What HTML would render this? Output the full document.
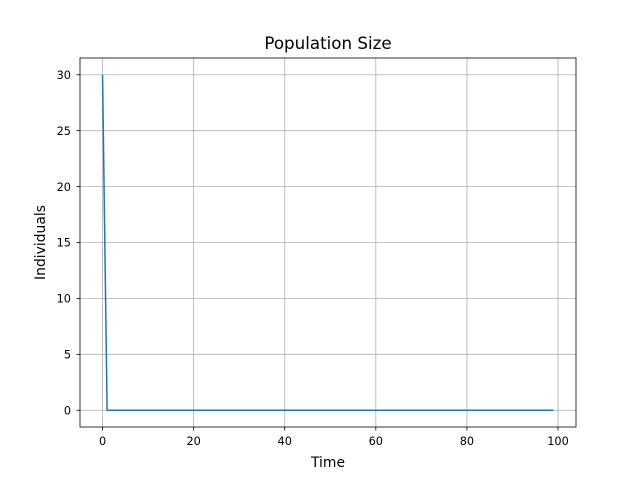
<!DOCTYPE html>
<html><head><meta charset="utf-8"><style>
body{margin:0;background:#fff;font-family:"DejaVu Sans","Liberation Sans",sans-serif}
svg text{font-family:"DejaVu Sans","Liberation Sans",sans-serif}
</style></head><body>
<svg id="chart" width="640" height="480" xmlns="http://www.w3.org/2000/svg">
<rect width="640" height="480" fill="#fff"/>
<g id="grid"></g><g id="ticks"></g><g id="series"></g>
<rect x="80" y="58" width="496" height="369" fill="none" stroke="#000" stroke-width="0.8"/>
<text x="328" y="49" text-anchor="middle" font-size="16.7">Population Size</text>
<text x="328" y="467" text-anchor="middle" font-size="13.9">Time</text>
<text x="45" y="242.5" text-anchor="middle" font-size="13.9" transform="rotate(-90 45 242.5)">Individuals</text>
</svg>
<script>
const xTicks=[0,20,40,60,80,100];
const yTicks=[0,5,10,15,20,25,30];
const popValues=[30].concat(new Array(99).fill(0));
const L=80,R=576,T=58,B=427;
const xMin=-4.95,xMax=103.95,yMin=-1.5,yMax=31.5;
const sx=v=>L+(v-xMin)/(xMax-xMin)*(R-L);
const sy=v=>B-(v-yMin)/(yMax-yMin)*(B-T);
const NS="http://www.w3.org/2000/svg";
const grid=document.getElementById('grid'),ticks=document.getElementById('ticks'),ser=document.getElementById('series');
function mk(tag,attrs,parent){const e=document.createElementNS(NS,tag);for(const k in attrs)e.setAttribute(k,attrs[k]);parent.appendChild(e);return e;}
xTicks.forEach(t=>{const x=sx(t);
 const g=mk('line',{x1:x,x2:x,y1:T,y2:B,stroke:'#b0b0b0','stroke-width':0.8},grid);
 
 
 mk('line',{x1:x,x2:x,y1:B,y2:B+3.5,stroke:'#000','stroke-width':0.8},ticks);
 const tx=mk('text',{x:x,y:B+18,'text-anchor':'middle','font-size':11.3},ticks);tx.textContent=t;
 
 
});
yTicks.forEach(t=>{const y=sy(t);
 const g=mk('line',{x1:L,x2:R,y1:y,y2:y,stroke:'#b0b0b0','stroke-width':0.8},grid);
 
 
 mk('line',{x1:L-3.5,x2:L,y1:y,y2:y,stroke:'#000','stroke-width':0.8},ticks);
 const tx=mk('text',{x:L-9,y:y+4.2,'text-anchor':'end','font-size':11.3},ticks);tx.textContent=t;
 
 
});
const pts=popValues.map((v,i)=>sx(i)+','+sy(v)).join(' ');
const pl=mk('polyline',{points:pts,fill:'none',stroke:'#1f77b4','stroke-width':1.5},ser);


</script>
</body></html>
